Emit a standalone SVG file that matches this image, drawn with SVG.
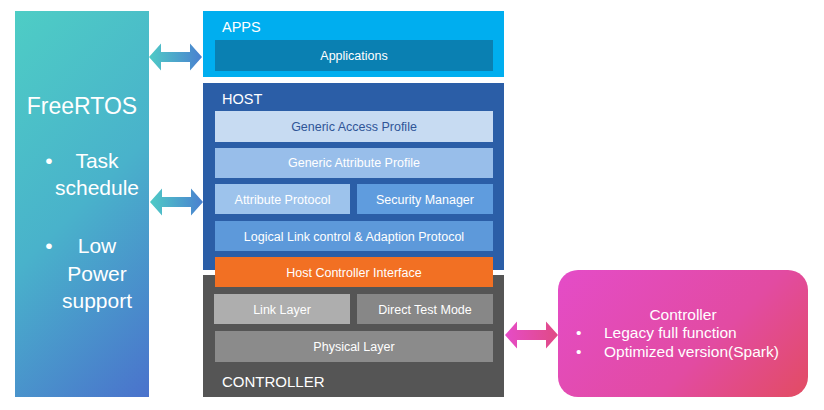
<svg xmlns="http://www.w3.org/2000/svg" width="824" height="410" viewBox="0 0 824 410">
<defs>
<linearGradient id="gRtos" gradientUnits="userSpaceOnUse" x1="15" y1="11" x2="275" y2="271"><stop offset="0" stop-color="#4ECDC5"/><stop offset="0.5" stop-color="#49B2CB"/><stop offset="1" stop-color="#4A72CC"/></linearGradient>
<linearGradient id="gArrow" x1="0" y1="0" x2="1" y2="0"><stop offset="0" stop-color="#4FCBC6"/><stop offset="1" stop-color="#4A80D0"/></linearGradient>
<linearGradient id="gPinkArrow" x1="0" y1="0" x2="1" y2="0"><stop offset="0" stop-color="#E64CC8"/><stop offset="1" stop-color="#E04A84"/></linearGradient>
<linearGradient id="gCtrl" gradientUnits="userSpaceOnUse" x1="558" y1="270" x2="746.5" y2="458.5"><stop offset="0" stop-color="#E44CC8"/><stop offset="0.6" stop-color="#E24BA2"/><stop offset="1" stop-color="#E24C62"/></linearGradient>
<style>
text{font-family:"Liberation Sans",Arial,sans-serif;fill:#ffffff}
.lay{font-size:12.5px;text-anchor:middle}
.hdr{font-size:14.5px}
.big{font-size:21px;text-anchor:middle}
.ct{font-size:15.5px}
</style>
</defs>
<g id="freertos">
<rect x="15" y="11" width="134" height="386" fill="url(#gRtos)"/>
<text x="82" y="114" style="font-size:23px;text-anchor:middle">FreeRTOS</text>
<text x="49" y="168" class="big">•</text>
<text x="97" y="168" class="big">Task</text>
<text x="97" y="195" class="big">schedule</text>
<text x="49" y="253" class="big">•</text>
<text x="97" y="253" class="big">Low</text>
<text x="97" y="281" class="big">Power</text>
<text x="97" y="308" class="big">support</text>
</g>
<g id="apps">
<rect x="203" y="11" width="301" height="66" fill="#00AEEF"/>
<text x="222" y="32" class="hdr">APPS</text>
<rect x="215" y="40" width="278" height="31" fill="#0A80B2"/>
<text x="354" y="60" class="lay">Applications</text>
</g>
<g id="host">
<rect x="203" y="83" width="301" height="187" fill="#2B5EA7"/>
<text x="222" y="104" class="hdr">HOST</text>
<g id="gap"><rect x="215" y="111" width="278" height="31" fill="#C7DBF2"/><text x="354" y="131" class="lay" style="fill:#2F5597">Generic Access Profile</text></g>
<g id="gatt"><rect x="215" y="148" width="278" height="30" fill="#98BEEA"/><text x="354" y="167" class="lay">Generic Attribute Profile</text></g>
<g id="att"><rect x="215" y="184" width="135" height="30" fill="#9DC3EC"/><text x="282.5" y="203.5" class="lay">Attribute Protocol</text></g>
<g id="sm"><rect x="357" y="184" width="136" height="30" fill="#5F9CDE"/><text x="425" y="203.5" class="lay">Security Manager</text></g>
<g id="l2cap"><rect x="215" y="221" width="278" height="30" fill="#5D99DA"/><text x="354" y="240.5" class="lay">Logical Link control &amp; Adaption Protocol</text></g>
</g>
<g id="controller">
<rect x="203" y="275" width="301" height="122" fill="#555555"/>
<g id="hci"><rect x="215" y="257" width="278" height="30" fill="#F27023"/><text x="354" y="276.5" class="lay">Host Controller Interface</text></g>
<g id="ll"><rect x="214" y="294" width="136" height="30" fill="#AEAEAE"/><text x="282" y="313.5" class="lay">Link Layer</text></g>
<g id="dtm"><rect x="357" y="294" width="136" height="30" fill="#878787"/><text x="425" y="313.5" class="lay">Direct Test Mode</text></g>
<g id="phy"><rect x="215" y="331" width="278" height="31" fill="#8B8B8B"/><text x="354" y="351" class="lay">Physical Layer</text></g>
<text x="222" y="387" style="font-size:15px">CONTROLLER</text>
</g>
<g id="ctrlbox">
<rect x="558" y="270" width="250" height="127" rx="20" ry="20" fill="url(#gCtrl)"/>
<text x="683" y="320" class="ct" style="text-anchor:middle">Controller</text>
<text x="576" y="338" class="ct">•</text>
<text x="604" y="338" class="ct">Legacy full function</text>
<text x="576" y="357" class="ct">•</text>
<text x="604" y="357" class="ct">Optimized version(Spark)</text>
</g>
<g id="connectors">
<path d="M149,57 L161,43.5 L161,52 L190,52 L190,43.5 L202,57 L190,70.5 L190,62 L161,62 L161,70.5 Z" fill="url(#gArrow)"/>
<path d="M150,202 L162,188.5 L162,197 L191,197 L191,188.5 L203,202 L191,215.5 L191,207 L162,207 L162,215.5 Z" fill="url(#gArrow)"/>
<path d="M505,335 L517,321.5 L517,330 L546,330 L546,321.5 L558,335 L546,348.5 L546,340 L517,340 L517,348.5 Z" fill="url(#gPinkArrow)"/>
</g>
</svg>
